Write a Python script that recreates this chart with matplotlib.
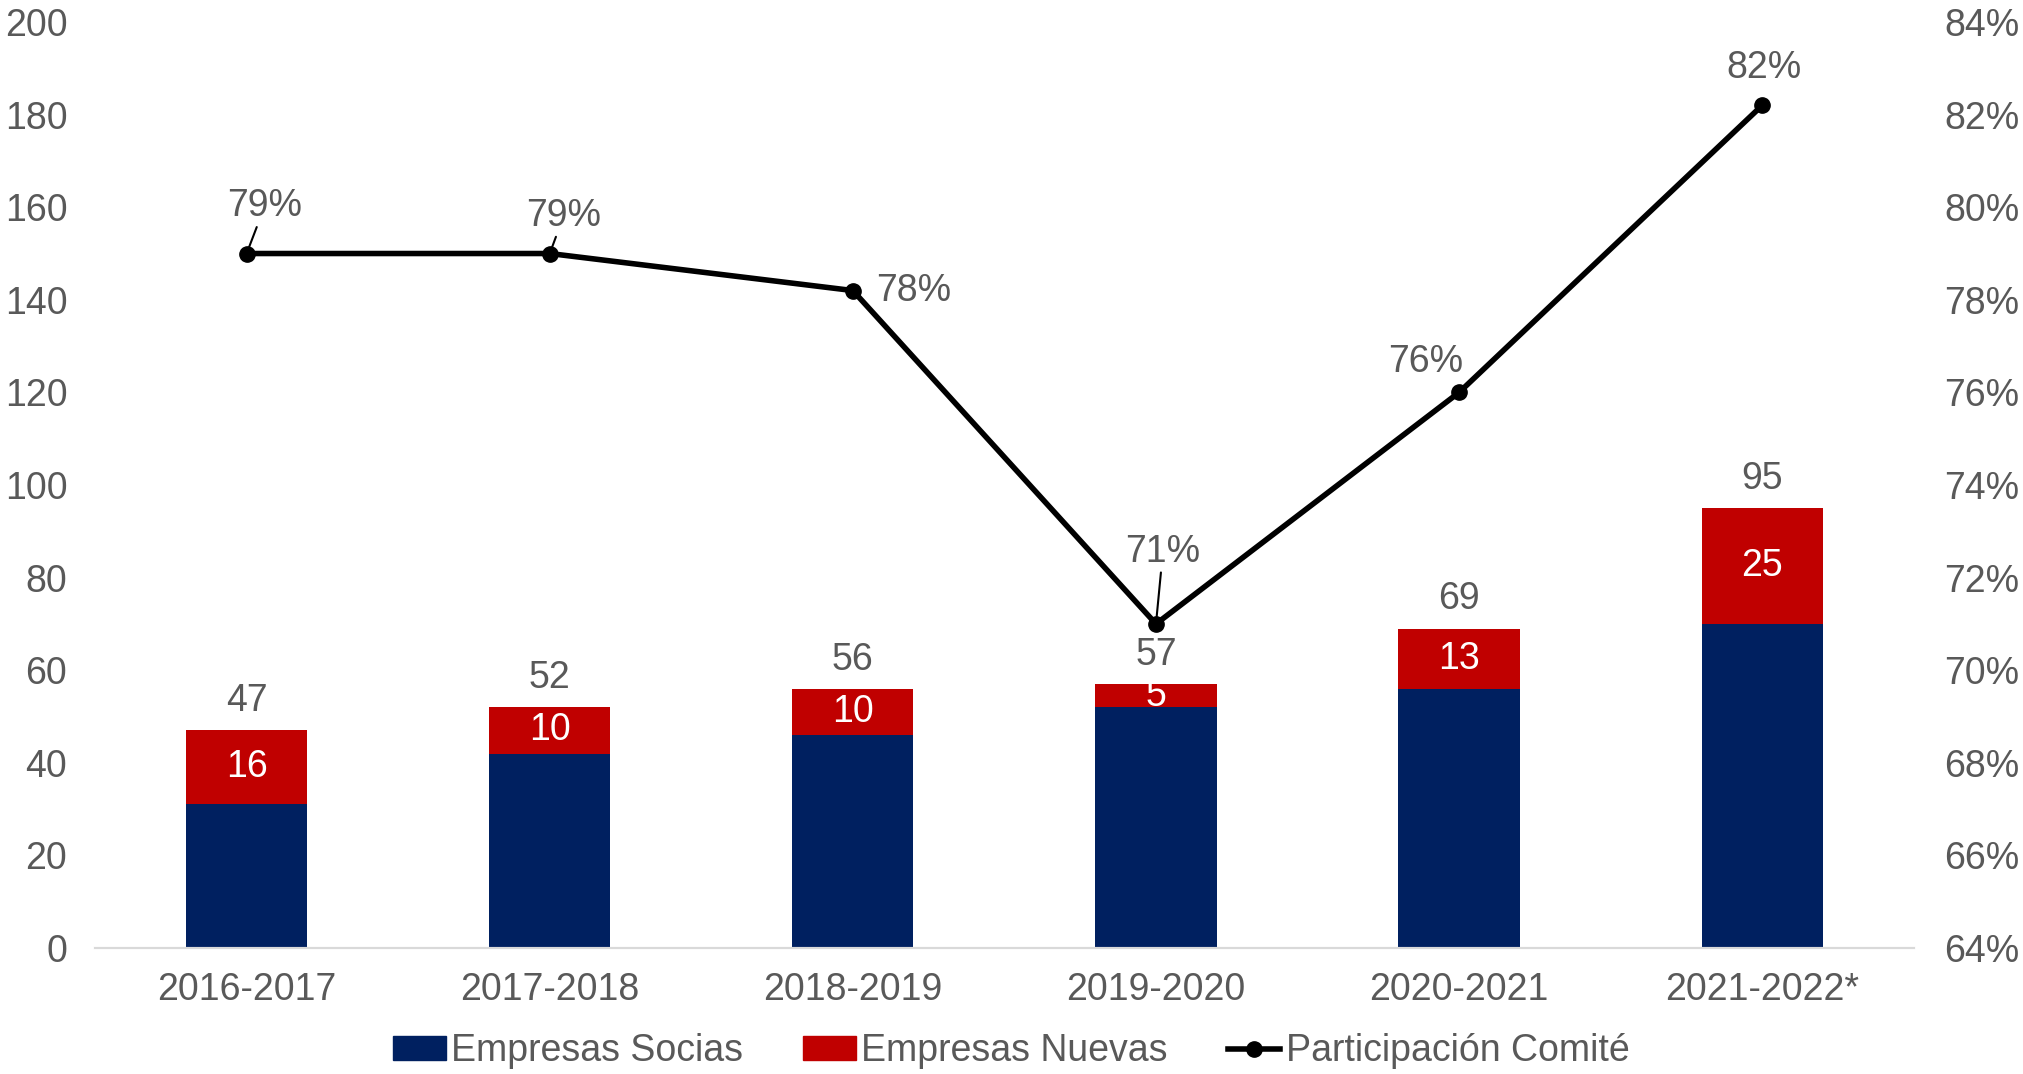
import numpy as np
import matplotlib
matplotlib.use('Agg')
import matplotlib.pyplot as plt
from matplotlib.patches import Patch
from matplotlib.lines import Line2D


# data
periods = ['2016-2017', '2017-2018', '2018-2019', '2019-2020', '2020-2021', '2021-2022*']
socias = [31, 42, 46, 52, 56, 70]
nuevas = [16, 10, 10, 5, 13, 25]
participacion = [79.0, 79.0, 78.2, 71.0, 76.0, 82.2]
part_labels = ['79%', '79%', '78%', '71%', '76%', '82%']

NAVY = '#002060'
RED = '#C00000'
GREY = '#595959'
FS = 27

plt.rcParams['font.family'] = ['Liberation Sans', 'DejaVu Sans']

#==============================================================================
fig = plt.figure(figsize=(20.23, 10.74), dpi=100)
ax = fig.add_axes([0.047, 0.1173, 0.899, 0.8622])
ax2 = ax.twinx()

x = np.arange(len(periods))
totals = [a + b for a, b in zip(socias, nuevas)]

ax.bar(x, socias, width=0.4, color=NAVY, zorder=2)
ax.bar(x, nuevas, width=0.4, bottom=socias, color=RED, zorder=2)

# segment and total labels
for xi, s, n, t in zip(x, socias, nuevas, totals):
    ax.text(xi, s + n / 2, str(n), ha='center', va='center', color='white', fontsize=FS)
    ax.annotate(str(t), (xi, t), xytext=(0, 8), textcoords='offset points',
                ha='center', va='bottom', color=GREY, fontsize=FS)

ax.set_ylim(0, 200)
ax.set_yticks(range(0, 201, 20))
ax.set_xlim(-0.5, len(periods) - 0.5)
ax.set_xticks(x)
ax.set_xticklabels(periods)

ax2.plot(x, participacion, color='black', lw=4, marker='o', ms=11, zorder=3)
ax2.set_ylim(64, 84)
ax2.set_yticks(range(64, 85, 2))
ax2.set_yticklabels([f'{v}%' for v in range(64, 85, 2)])

# line labels, offsets in points (some with a leader line)
offsets = [(13, 34), (10, 27), (44, 0), (5, 52), (-24, 22), (1, 27)]
leaders = [True, True, False, True, False, False]
for xi, yi, lab, off, lead in zip(x, participacion, part_labels, offsets, leaders):
    ax2.annotate(lab, (xi, yi), xytext=off, textcoords='offset points',
                 ha='center', va='center', color=GREY, fontsize=FS,
                 arrowprops=dict(arrowstyle='-', color='black', lw=1.5,
                                 shrinkA=0, shrinkB=2) if lead else None)

for a in (ax, ax2):
    for side in ('top', 'left', 'right'):
        a.spines[side].set_visible(False)
    a.spines['bottom'].set_color('#d9d9d9')
    a.spines['bottom'].set_linewidth(1.5)
    a.tick_params(length=0, labelsize=FS, labelcolor=GREY)
ax.tick_params(axis='x', pad=17)
ax.tick_params(axis='y', pad=20)
ax2.tick_params(axis='y', pad=22)

handles = [Patch(color=NAVY, label='Empresas Socias'),
           Patch(color=RED, label='Empresas Nuevas'),
           Line2D([], [], color='black', lw=4, marker='o', ms=11, label='Participación Comité')]
leg = fig.legend(handles=handles, loc='center', bbox_to_anchor=(0.5, 0.021), ncol=3,
                 frameon=False, fontsize=FS, handlelength=1.4, handletextpad=0.15,
                 columnspacing=1.6, handleheight=0.6)
for t in leg.get_texts():
    t.set_color(GREY)

fig.savefig('out.png', dpi=100)
plt.close(fig)
